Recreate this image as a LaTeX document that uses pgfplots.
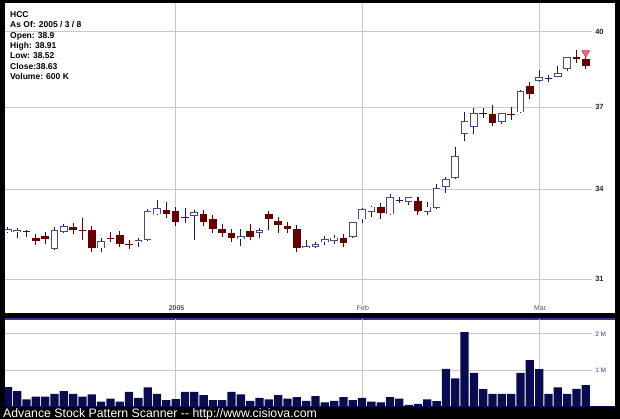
\documentclass[border=0pt]{standalone}
\usepackage{pgfplots}
\pgfplotsset{compat=1.18}
\usepackage{pgfplotstable}
\usepackage{fontspec}
\setmainfont{Liberation Sans}

\definecolor{gridc}{HTML}{C8C8C8}
\definecolor{wickblue}{HTML}{1C1C5C}
\definecolor{bodyline}{HTML}{4A4A88}
\definecolor{maroon}{HTML}{660000}
\definecolor{volnavy}{HTML}{0A0A50}
\definecolor{sigfill}{HTML}{F07080}
\definecolor{sigline}{HTML}{C03850}
\definecolor{labelgrey}{HTML}{505050}
\definecolor{labelnavy}{HTML}{35358A}

% candles, by trading day (0 = 2004-12-07)
\pgfplotstableread{
i  O     H     L     C
0  32.52 32.70 32.49 32.63
1  32.52 32.66 32.34 32.60
2  32.56 32.61 32.37 32.57
5  31.96 32.70 31.94 32.61
6  32.54 32.80 32.49 32.74
10 31.99 32.34 31.88 32.23
14 32.19 32.34 32.05 32.26
15 32.26 33.32 32.25 33.25
16 33.13 33.63 33.12 33.34
19 33.03 33.36 32.83 33.05
20 33.07 33.30 32.26 33.22
25 32.29 32.63 32.07 32.41
27 32.51 32.67 32.34 32.61
32 32.01 32.26 31.99 32.06
33 32.05 32.21 31.99 32.14
34 32.19 32.40 32.10 32.29
35 32.24 32.43 32.13 32.35
37 32.38 32.87 32.35 32.86
38 32.96 33.36 32.83 33.32
39 33.22 33.43 33.03 33.40
41 33.13 33.84 33.12 33.74
42 33.59 33.74 33.51 33.61
43 33.55 33.74 33.46 33.72
45 33.22 33.57 33.10 33.40
46 33.36 34.19 33.33 34.04
47 34.09 34.42 33.88 34.35
48 34.39 35.53 34.35 35.19
49 35.99 36.83 35.72 36.49
50 36.27 36.96 35.99 36.77
51 36.74 36.96 36.59 36.76
53 36.45 36.78 36.37 36.77
55 36.81 37.66 36.77 37.63
57 38.03 38.46 37.99 38.16
58 38.12 38.25 37.99 38.14
59 38.19 38.60 38.16 38.32
60 38.49 38.97 38.43 38.96
}\candlesup

\pgfplotstableread{
i  O     H     L     C
3  32.34 32.37 32.13 32.24
4  32.40 32.43 32.13 32.31
7  32.70 32.82 32.47 32.59
8  32.60 33.00 32.26 32.58
9  32.60 32.62 31.96 31.99
11 32.35 32.52 32.21 32.33
12 32.43 32.45 32.10 32.15
13 32.15 32.21 31.96 32.13
17 33.30 33.57 33.05 33.13
18 33.25 33.28 32.85 32.88
21 33.14 33.30 32.79 32.86
22 32.97 33.00 32.57 32.63
23 32.63 32.82 32.45 32.51
24 32.51 32.54 32.21 32.32
26 32.57 32.82 32.34 32.38
28 33.13 33.14 32.60 32.96
29 32.90 33.03 32.51 32.77
30 32.75 32.76 32.49 32.63
31 32.63 32.66 31.97 31.99
36 32.34 32.35 32.05 32.18
40 33.40 33.42 32.97 33.17
44 33.60 33.72 33.22 33.25
52 36.75 37.09 36.40 36.42
54 36.76 37.00 36.52 36.74
56 37.82 37.83 37.31 37.51
61 38.96 39.25 38.73 38.94
62 38.90 38.91 38.52 38.63
}\candlesdown

% volume in millions
\pgfplotstableread{
i v
0 0.54
1 0.43
2 0.20
3 0.275
4 0.275
5 0.35
6 0.43
7 0.35
8 0.275
9 0.34
10 0.14
11 0.22
12 0.14
13 0.41
14 0.24
15 0.53
16 0.35
17 0.18
18 0.21
19 0.41
20 0.41
21 0.32
22 0.18
23 0.18
24 0.41
25 0.34
26 0.16
27 0.24
28 0.20
29 0.32
30 0.22
31 0.26
32 0.16
33 0.29
34 0.12
35 0.16
36 0.26
37 0.18
38 0.24
39 0.14
40 0.12
41 0.26
42 0.22
43 0.05
44 0.08
45 0.20
46 0.15
47 1.04
48 0.78
49 2.05
50 0.93
51 0.48
52 0.35
53 0.35
54 0.35
55 0.93
56 1.28
57 1.03
58 0.35
59 0.53
60 0.35
61 0.49
62 0.59
}\volumes

\pgfplotsset{
  errbase/.style={draw=none, mark=none, forget plot,
    error bars/y dir=both, error bars/y explicit},
  upbody/.style={forget plot, mark=none, draw=bodyline, line width=7.6pt, line cap=butt,
    postaction={draw=white, line width=5.9pt, shorten <=0.8pt, shorten >=0.8pt}},
  crossbody/.style={forget plot, mark=none, draw=wickblue, line width=7.6pt, line cap=butt},
}

\begin{document}
\begin{tikzpicture}[x=1pt,y=1pt]
\useasboundingbox (0,0) rectangle (620,419);
\fill[black] (0,0) rectangle (620,419);
\fill[white] (5,106) rectangle (615,416);
\fill[white] (5,12) rectangle (615,100);
\draw[labelnavy, line width=1.2pt] (5,100) -- (615,100);

% price panel
\begin{axis}[
    at={(5pt,106pt)}, anchor=south west,
    scale only axis, width=610pt, height=310pt,
    xmin=-0.31, xmax=65.14,
    ymode=log, ymin=29.93, ymax=41.2,
    axis lines=none, xtick=\empty, ytick=\empty,
]
% grid
\addplot[gridc, line width=0.8pt, forget plot] coordinates {(18,30.18)(18,41.2)};
\addplot[gridc, line width=0.8pt, forget plot] coordinates {(38,30.18)(38,41.2)};
\addplot[gridc, line width=0.8pt, forget plot] coordinates {(57,30.18)(57,41.2)};
\addplot[gridc, line width=0.8pt, forget plot] coordinates {(-0.31,31)(62.64,31)};
\addplot[gridc, line width=0.8pt, forget plot] coordinates {(-0.31,34)(62.64,34)};
\addplot[gridc, line width=0.8pt, forget plot] coordinates {(-0.31,37)(62.64,37)};
\addplot[gridc, line width=0.8pt, forget plot] coordinates {(-0.31,40)(62.64,40)};

% wicks
\addplot[errbase, error bars/y dir=plus, error bars/error mark=none,
  error bars/error bar style={draw=wickblue, line width=0.9pt, solid}]
  table[x=i, y=L, y error expr={\thisrow{H}-\thisrow{L}}] {\candlesup};
\addplot[errbase, error bars/y dir=plus, error bars/error mark=none,
  error bars/error bar style={draw=maroon, line width=0.9pt, solid}]
  table[x=i, y=L, y error expr={\thisrow{H}-\thisrow{L}}] {\candlesdown};

% up bodies (open to close)
\addplot[upbody] coordinates {(0,32.52)(0,32.63)};
\addplot[upbody] coordinates {(1,32.52)(1,32.60)};
\addplot[crossbody] coordinates {(2,32.555)(2,32.585)};
\addplot[upbody] coordinates {(5,31.96)(5,32.61)};
\addplot[upbody] coordinates {(6,32.54)(6,32.74)};
\addplot[upbody] coordinates {(10,31.99)(10,32.23)};
\addplot[upbody] coordinates {(14,32.19)(14,32.26)};
\addplot[upbody] coordinates {(15,32.26)(15,33.25)};
\addplot[upbody] coordinates {(16,33.13)(16,33.34)};
\addplot[crossbody] coordinates {(19,33.025)(19,33.055)};
\addplot[upbody] coordinates {(20,33.07)(20,33.22)};
\addplot[upbody] coordinates {(25,32.29)(25,32.41)};
\addplot[upbody] coordinates {(27,32.51)(27,32.61)};
\addplot[upbody] coordinates {(32,32.01)(32,32.06)};
\addplot[upbody] coordinates {(33,32.05)(33,32.14)};
\addplot[upbody] coordinates {(34,32.19)(34,32.29)};
\addplot[upbody] coordinates {(35,32.24)(35,32.35)};
\addplot[upbody] coordinates {(37,32.38)(37,32.86)};
\addplot[upbody] coordinates {(38,32.96)(38,33.32)};
\addplot[upbody] coordinates {(39,33.22)(39,33.40)};
\addplot[upbody] coordinates {(41,33.13)(41,33.74)};
\addplot[crossbody] coordinates {(42,33.585)(42,33.615)};
\addplot[upbody] coordinates {(43,33.55)(43,33.72)};
\addplot[upbody] coordinates {(45,33.22)(45,33.40)};
\addplot[upbody] coordinates {(46,33.36)(46,34.04)};
\addplot[upbody] coordinates {(47,34.09)(47,34.35)};
\addplot[upbody] coordinates {(48,34.39)(48,35.19)};
\addplot[upbody] coordinates {(49,35.99)(49,36.49)};
\addplot[upbody] coordinates {(50,36.27)(50,36.77)};
\addplot[crossbody] coordinates {(51,36.735)(51,36.765)};
\addplot[upbody] coordinates {(53,36.45)(53,36.77)};
\addplot[upbody] coordinates {(55,36.81)(55,37.63)};
\addplot[upbody] coordinates {(57,38.03)(57,38.16)};
\addplot[crossbody] coordinates {(58,38.115)(58,38.145)};
\addplot[upbody] coordinates {(59,38.19)(59,38.32)};
\addplot[upbody] coordinates {(60,38.49)(60,38.96)};

% down bodies
\addplot[errbase, error bars/error mark=-,
  error bars/error bar style={draw=maroon, line width=7.6pt, line cap=butt, solid},
  error bars/error mark options={draw=maroon, line width=1pt, mark size=3.8pt, solid}]
  table[x=i, y expr={(\thisrow{O}+\thisrow{C})/2}, y error expr={(\thisrow{O}-\thisrow{C})/2}] {\candlesdown};

% pattern signal on the last bar
\addplot[only marks, mark=triangle*, mark size=4.4pt,
  mark options={rotate=180, fill=sigfill, draw=sigline, line width=0.6pt}]
  coordinates {(62,39.135)};

% labels
\node[font=\fontsize{7}{8}\selectfont\bfseries, text=labelgrey] at (axis cs:18.1,30.07) {2005};
\node[font=\fontsize{7}{8}\selectfont, text=labelgrey] at (axis cs:38.1,30.07) {Feb};
\node[font=\fontsize{7}{8}\selectfont, text=labelgrey] at (axis cs:57.1,30.07) {Mar};
\node[anchor=west, inner sep=0pt, font=\fontsize{7.5}{8}\selectfont\bfseries, text=black!85]
  at (axis cs:63.0,31) {31};
\node[anchor=west, inner sep=0pt, font=\fontsize{7.5}{8}\selectfont\bfseries, text=black!85]
  at (axis cs:63.0,34) {34};
\node[anchor=west, inner sep=0pt, font=\fontsize{7.5}{8}\selectfont\bfseries, text=black!85]
  at (axis cs:63.0,37) {37};
\node[anchor=west, inner sep=0pt, font=\fontsize{7.5}{8}\selectfont\bfseries, text=black!85]
  at (axis cs:63.0,40) {40};
\end{axis}

% volume panel
\begin{axis}[
    at={(5pt,12.3pt)}, anchor=south west,
    scale only axis, width=610pt, height=87.4pt,
    xmin=-0.31, xmax=65.14,
    ymin=0, ymax=2.40,
    axis lines=none, xtick=\empty, ytick=\empty,
]
\addplot[gridc, line width=0.8pt, forget plot] coordinates {(18,0)(18,2.4)};
\addplot[gridc, line width=0.8pt, forget plot] coordinates {(38,0)(38,2.4)};
\addplot[gridc, line width=0.8pt, forget plot] coordinates {(57,0)(57,2.4)};
\addplot[gridc, line width=0.8pt, forget plot] coordinates {(-0.31,1)(62.64,1)};
\addplot[gridc, line width=0.8pt, forget plot] coordinates {(-0.31,2)(62.64,2)};

\addplot[ybar, bar width=8.3pt, bar shift=0pt, fill=volnavy, draw=none]
  table[x=i, y=v] {\volumes};
\addplot[volnavy, line width=1.4pt, forget plot] coordinates {(-0.31,0)(65.14,0)};

\node[anchor=west, inner sep=0pt, font=\fontsize{6.5}{7}\selectfont, text=labelnavy]
  at (axis cs:63.0,2) {2 M};
\node[anchor=west, inner sep=0pt, font=\fontsize{6.5}{7}\selectfont, text=labelnavy]
  at (axis cs:63.0,1) {1 M};
\end{axis}

% quote box
\begin{scope}[every node/.style={anchor=base west, inner sep=0pt,
    font=\fontsize{8.5}{9}\selectfont\bfseries, text=black}]
\node at (10,401.7) {HCC};
\node at (10,391.3) {As Of: 2005 / 3 / 8};
\node at (10,380.9) {Open: 38.9};
\node at (10,370.5) {High: 38.91};
\node at (10,360.1) {Low: 38.52};
\node at (10,349.7) {Close:38.63};
\node at (10,339.3) {Volume: 600 K};
\end{scope}

\node[anchor=base west, inner sep=0pt, text=white,
  font=\fontsize{12.3}{14}\selectfont] at (3,1.5)
  {Advance Stock Pattern Scanner -{}- http://www.cisiova.com};
\end{tikzpicture}
\end{document}
